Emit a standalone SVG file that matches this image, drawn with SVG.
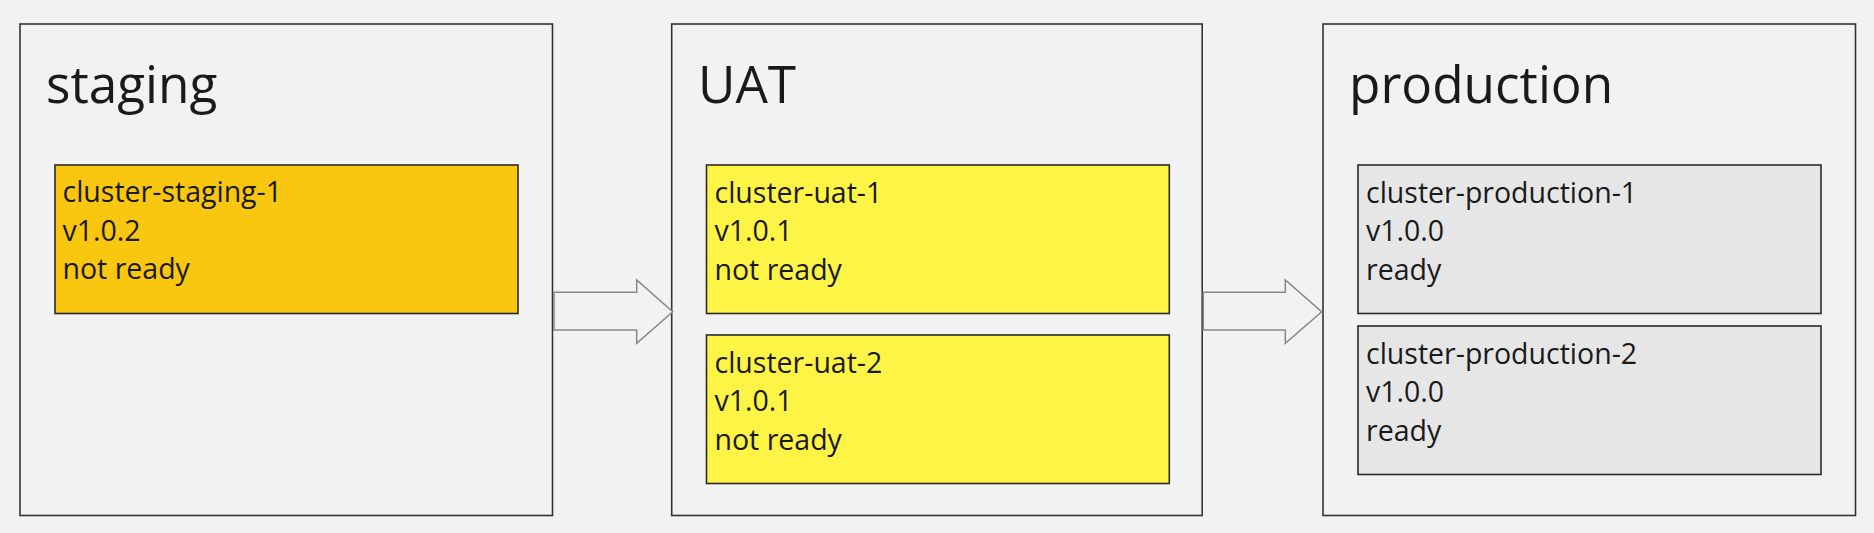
<svg xmlns="http://www.w3.org/2000/svg" width="1874" height="533" viewBox="0 0 1874 533">
<style>
.env{fill:#f2f2f2;stroke:#333333;stroke-width:1.6}
.card{stroke:#2b2b2b;stroke-width:1.6}
.stg{fill:#fac710}
.uat{fill:#fef445}
.prd{fill:#e6e6e6}
.title{font-family:"Open Sans","Noto Sans",sans-serif;font-size:51.3px;fill:#1a1a1a}
.lbl{font-family:"Open Sans","Noto Sans",sans-serif;font-size:28.5px;fill:#1a1a1a}
.arrow{fill:#f2f2f2;stroke:#888888;stroke-width:1.5;stroke-linejoin:miter}
</style>
<rect width="1874" height="533" fill="#f2f2f2"/>
<g id="env-staging">
<rect class="env" x="20" y="24" width="532.5" height="491.5"/>
<text class="title" x="46" y="103">staging</text>
</g>
<g id="env-uat">
<rect class="env" x="671.7" y="24" width="530.5" height="491.5"/>
<text class="title" x="698" y="103">UAT</text>
</g>
<g id="env-production">
<rect class="env" x="1323" y="24" width="532.5" height="491.5"/>
<text class="title" x="1349" y="103">production</text>
</g>
<g id="cluster-staging-1">
<rect class="card stg" x="55" y="165" width="463" height="148.5"/>
<text class="lbl" x="62.5" y="202"><tspan x="62.5">cluster-staging-1</tspan><tspan x="62.5" y="240.5">v1.0.2</tspan><tspan x="62.5" y="279">not ready</tspan></text>
</g>
<g id="cluster-uat-1">
<rect class="card uat" x="706.5" y="165" width="462.8" height="148.5"/>
<text class="lbl" x="714.5" y="202.5"><tspan x="714.5">cluster-uat-1</tspan><tspan x="714.5" y="241">v1.0.1</tspan><tspan x="714.5" y="279.5">not ready</tspan></text>
</g>
<g id="cluster-uat-2">
<rect class="card uat" x="706.5" y="335" width="462.8" height="148.5"/>
<text class="lbl" x="714.5" y="372.5"><tspan x="714.5">cluster-uat-2</tspan><tspan x="714.5" y="411">v1.0.1</tspan><tspan x="714.5" y="449.5">not ready</tspan></text>
</g>
<g id="cluster-production-1">
<rect class="card prd" x="1358" y="165" width="463" height="148.5"/>
<text class="lbl" x="1366" y="202.5"><tspan x="1366">cluster-production-1</tspan><tspan x="1366" y="241">v1.0.0</tspan><tspan x="1366" y="279.5">ready</tspan></text>
</g>
<g id="cluster-production-2">
<rect class="card prd" x="1358" y="326" width="463" height="148.5"/>
<text class="lbl" x="1366" y="363.5"><tspan x="1366">cluster-production-2</tspan><tspan x="1366" y="402">v1.0.0</tspan><tspan x="1366" y="440.5">ready</tspan></text>
</g>
<g id="connectors">
<polygon class="arrow" points="554,292.3 636.7,292.3 636.7,280 672.7,311.7 636.7,343.3 636.7,330 554,330"/>
<polygon class="arrow" points="1203.3,292.3 1285.3,292.3 1285.3,280 1321.7,311.7 1285.3,343.3 1285.3,330 1203.3,330"/>
</g>
</svg>
